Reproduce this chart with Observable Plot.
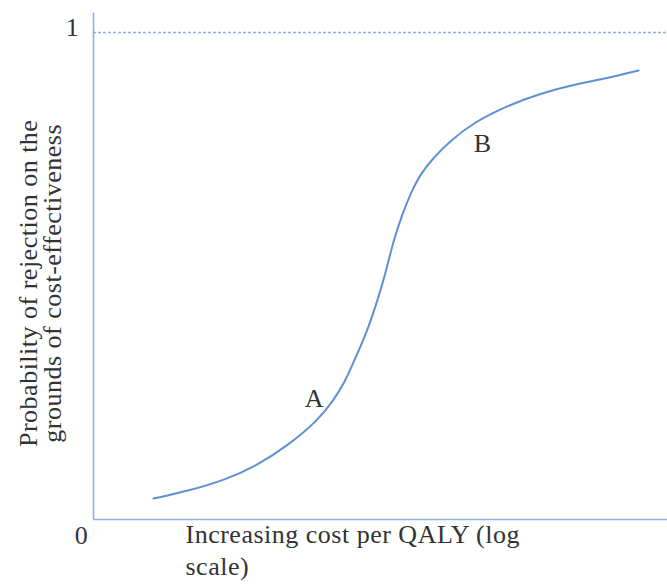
<!DOCTYPE html>
<html>
<head>
<meta charset="utf-8">
<script src="https://cdn.jsdelivr.net/npm/d3@7"></script>
<script src="https://cdn.jsdelivr.net/npm/@observablehq/plot@0.6"></script>
<style>
  html, body { margin: 0; padding: 0; background: #fff; }
  svg text { letter-spacing: 0.5px; }
</style>
</head>
<body>
<div id="chart"></div>
<script>
// Curve: relative cost position (log scale, arbitrary units 0–100) vs probability of rejection
const costPos = [10.45, 16.9, 22.65, 28.57, 34.32, 39.02, 41.81, 43.9, 45.3, 47.74, 49.48, 50.87, 52.26, 53.83, 55.23, 56.97, 59.23, 62.2, 66.2, 72.13, 77.87, 83.62, 89.55, 94.95];
const probReject = [0.043, 0.060, 0.080, 0.111, 0.156, 0.203, 0.244, 0.285, 0.323, 0.388, 0.450, 0.505, 0.573, 0.628, 0.669, 0.710, 0.743, 0.778, 0.815, 0.850, 0.875, 0.893, 0.906, 0.922];

// Point labels
const pointNames = ["A", "B"];
const pointX = [38.5, 67.8];
const pointY = [0.248, 0.772];

// Tick labels
const tickValues = [0, 1];
const tickLabels = ["0", "1"];

const xTitleLines = ["Increasing cost per QALY (log", "scale)"];
const yTitleLines = ["Probability of rejection on the", "grounds of cost-effectiveness"];

const curve = costPos.map((x, i) => ({x, y: probReject[i]}));
const points = pointNames.map((n, i) => ({n, x: pointX[i], y: pointY[i]}));

const font = "'Liberation Serif', 'DejaVu Serif', serif";
const textColor = "#333";
const axisColor = "#8fb0de";
const lineColor = "#5e91d4";
const fs = 26;

const chart = Plot.plot({
  width: 667,
  height: 588,
  marginLeft: 93,
  marginRight: 0,
  marginTop: 32,
  marginBottom: 69,
  style: {fontFamily: font, background: "#fff", overflow: "visible"},
  x: {domain: [0, 100], axis: null},
  y: {domain: [0, 1], axis: null},
  marks: [
    // axes lines
    Plot.ruleX([0], {y1: 0, y2: 1.04, stroke: axisColor, strokeWidth: 1.6}),
    Plot.ruleY([0], {stroke: axisColor, strokeWidth: 1.6}),
    // dotted line at probability 1
    Plot.ruleY([1], {stroke: axisColor, strokeWidth: 1.5, strokeDasharray: "3,2"}),
    // curve
    Plot.line(curve, {x: "x", y: "y", curve: "basis", stroke: lineColor, strokeWidth: 2}),
    // point labels
    Plot.text(points, {x: "x", y: "y", text: "n", fontSize: fs, fill: textColor}),
    // tick labels
    Plot.text([tickValues[1]], {x: 0, y: d => d, text: () => tickLabels[1], dx: -21, dy: -5, fontSize: fs, fill: textColor}),
    Plot.text([tickValues[0]], {x: 0, y: d => d, text: () => tickLabels[0], dx: -12, dy: 16, fontSize: fs, fill: textColor}),
    // x title
    Plot.text([xTitleLines[0]], {frameAnchor: "bottom-left", text: d => d, textAnchor: "start", dx: 92, dy: 23, fontSize: fs, fill: textColor}),
    Plot.text([xTitleLines[1]], {frameAnchor: "bottom-left", text: d => d, textAnchor: "start", dx: 92, dy: 55, fontSize: fs, fill: textColor}),
    // y title (rotated)
    Plot.text([yTitleLines[0]], {x: -11.3, y: 0.485, text: d => d, rotate: -90, fontSize: fs, fill: textColor}),
    Plot.text([yTitleLines[1]], {x: -7.14, y: 0.485, text: d => d, rotate: -90, fontSize: fs, fill: textColor})
  ]
});
document.getElementById("chart").appendChild(chart);
</script>
</body>
</html>
